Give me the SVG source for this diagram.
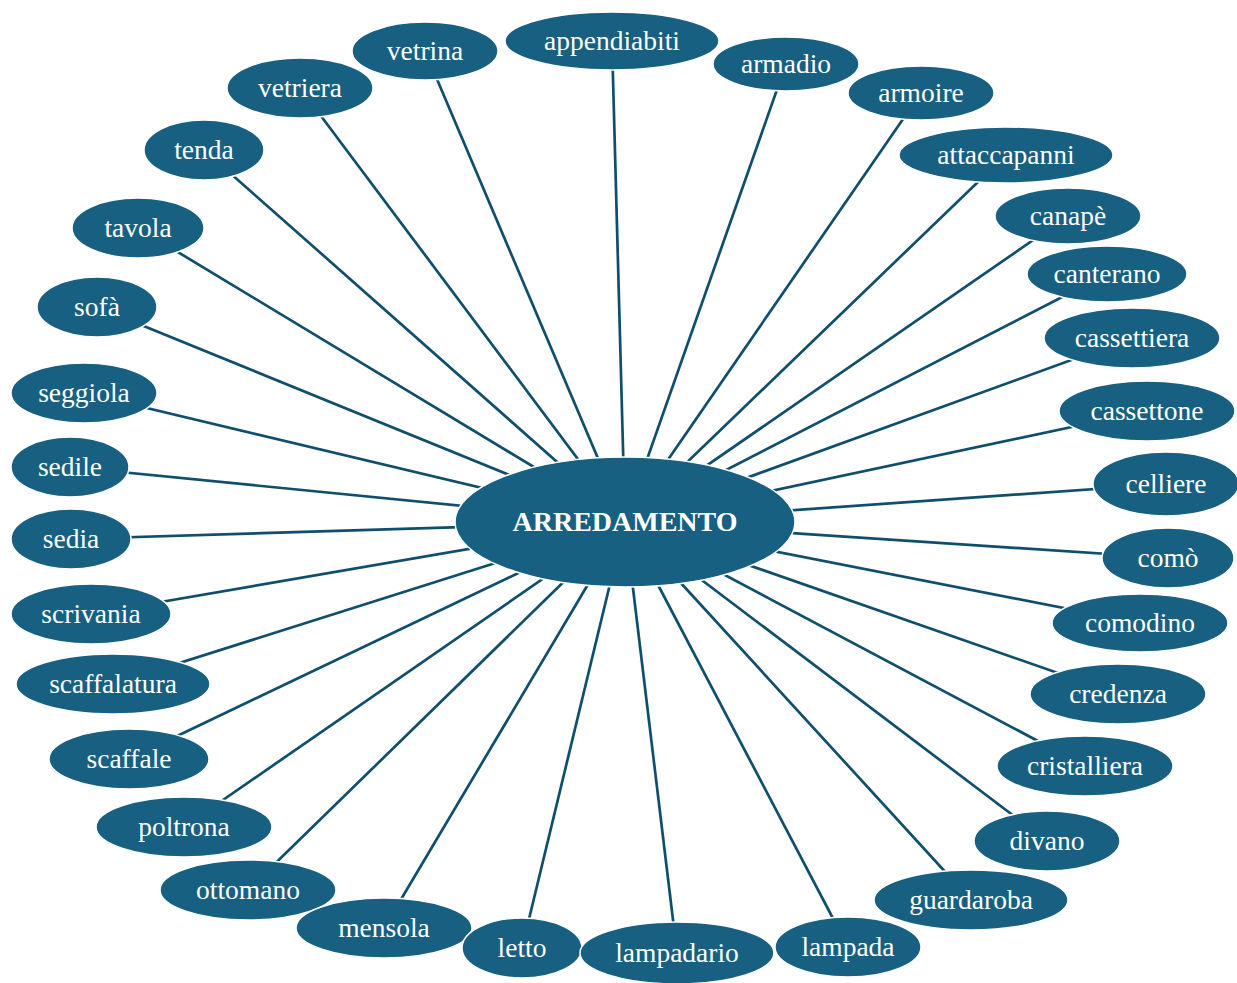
<svg xmlns="http://www.w3.org/2000/svg" width="1237" height="983" viewBox="0 0 1237 983">
<style>
.e{fill:#176082;stroke:#ffffff;stroke-width:1.5}
.t{font-family:"Liberation Serif","Times New Roman",serif;font-size:27.5px;fill:#ffffff;text-anchor:middle}
.c{font-family:"Liberation Serif","Times New Roman",serif;font-size:28px;font-weight:bold;fill:#ffffff;text-anchor:middle}
#edges line{stroke:#0f4f6b;stroke-width:2.7}
</style>
<rect width="1237" height="983" fill="#ffffff"/>
<g id="edges">
<line x1="625" y1="522" x2="612" y2="41"/>
<line x1="625" y1="522" x2="786" y2="64"/>
<line x1="625" y1="522" x2="921" y2="93"/>
<line x1="625" y1="522" x2="1006" y2="155"/>
<line x1="625" y1="522" x2="1068" y2="216"/>
<line x1="625" y1="522" x2="1107" y2="274"/>
<line x1="625" y1="522" x2="1132" y2="338"/>
<line x1="625" y1="522" x2="1147" y2="411"/>
<line x1="625" y1="522" x2="1166" y2="484"/>
<line x1="625" y1="522" x2="1168" y2="558"/>
<line x1="625" y1="522" x2="1140" y2="623"/>
<line x1="625" y1="522" x2="1118" y2="694"/>
<line x1="625" y1="522" x2="1085" y2="766"/>
<line x1="625" y1="522" x2="1047" y2="841"/>
<line x1="625" y1="522" x2="971" y2="900"/>
<line x1="625" y1="522" x2="848" y2="947"/>
<line x1="625" y1="522" x2="677" y2="953"/>
<line x1="625" y1="522" x2="522" y2="948"/>
<line x1="625" y1="522" x2="384" y2="928"/>
<line x1="625" y1="522" x2="248" y2="890"/>
<line x1="625" y1="522" x2="184" y2="827"/>
<line x1="625" y1="522" x2="129" y2="759"/>
<line x1="625" y1="522" x2="113" y2="684"/>
<line x1="625" y1="522" x2="91" y2="614"/>
<line x1="625" y1="522" x2="71" y2="539"/>
<line x1="625" y1="522" x2="70" y2="467"/>
<line x1="625" y1="522" x2="84" y2="393"/>
<line x1="625" y1="522" x2="97" y2="307"/>
<line x1="625" y1="522" x2="138" y2="228"/>
<line x1="625" y1="522" x2="204" y2="150"/>
<line x1="625" y1="522" x2="300" y2="88"/>
<line x1="625" y1="522" x2="425" y2="51"/>
</g>
<g id="n-appendiabiti"><ellipse class="e" cx="612" cy="41" rx="107" ry="29"/><text class="t" x="612" y="50">appendiabiti</text></g>
<g id="n-armadio"><ellipse class="e" cx="786" cy="64" rx="73" ry="27"/><text class="t" x="786" y="73">armadio</text></g>
<g id="n-armoire"><ellipse class="e" cx="921" cy="93" rx="73" ry="27"/><text class="t" x="921" y="102">armoire</text></g>
<g id="n-attaccapanni"><ellipse class="e" cx="1006" cy="155" rx="107" ry="28"/><text class="t" x="1006" y="164">attaccapanni</text></g>
<g id="n-canape"><ellipse class="e" cx="1068" cy="216" rx="73" ry="28"/><text class="t" x="1068" y="225">canapè</text></g>
<g id="n-canterano"><ellipse class="e" cx="1107" cy="274" rx="80" ry="28"/><text class="t" x="1107" y="283">canterano</text></g>
<g id="n-cassettiera"><ellipse class="e" cx="1132" cy="338" rx="88" ry="30"/><text class="t" x="1132" y="347">cassettiera</text></g>
<g id="n-cassettone"><ellipse class="e" cx="1147" cy="411" rx="88" ry="30"/><text class="t" x="1147" y="420">cassettone</text></g>
<g id="n-celliere"><ellipse class="e" cx="1166" cy="484" rx="73" ry="32"/><text class="t" x="1166" y="493">celliere</text></g>
<g id="n-como"><ellipse class="e" cx="1168" cy="558" rx="66" ry="30"/><text class="t" x="1168" y="567">comò</text></g>
<g id="n-comodino"><ellipse class="e" cx="1140" cy="623" rx="88" ry="29"/><text class="t" x="1140" y="632">comodino</text></g>
<g id="n-credenza"><ellipse class="e" cx="1118" cy="694" rx="88" ry="30"/><text class="t" x="1118" y="703">credenza</text></g>
<g id="n-cristalliera"><ellipse class="e" cx="1085" cy="766" rx="88" ry="30"/><text class="t" x="1085" y="775">cristalliera</text></g>
<g id="n-divano"><ellipse class="e" cx="1047" cy="841" rx="73" ry="30"/><text class="t" x="1047" y="850">divano</text></g>
<g id="n-guardaroba"><ellipse class="e" cx="971" cy="900" rx="97" ry="30"/><text class="t" x="971" y="909">guardaroba</text></g>
<g id="n-lampada"><ellipse class="e" cx="848" cy="947" rx="73" ry="30"/><text class="t" x="848" y="956">lampada</text></g>
<g id="n-ottomano"><ellipse class="e" cx="248" cy="890" rx="88" ry="30"/><text class="t" x="248" y="899">ottomano</text></g>
<g id="n-mensola"><ellipse class="e" cx="384" cy="928" rx="88" ry="30"/><text class="t" x="384" y="937">mensola</text></g>
<g id="n-letto"><ellipse class="e" cx="522" cy="948" rx="60" ry="30"/><text class="t" x="522" y="957">letto</text></g>
<g id="n-lampadario"><ellipse class="e" cx="677" cy="953" rx="97" ry="31"/><text class="t" x="677" y="962">lampadario</text></g>
<g id="n-poltrona"><ellipse class="e" cx="184" cy="827" rx="88" ry="30"/><text class="t" x="184" y="836">poltrona</text></g>
<g id="n-scaffale"><ellipse class="e" cx="129" cy="759" rx="80" ry="30"/><text class="t" x="129" y="768">scaffale</text></g>
<g id="n-scaffalatura"><ellipse class="e" cx="113" cy="684" rx="97" ry="30"/><text class="t" x="113" y="693">scaffalatura</text></g>
<g id="n-scrivania"><ellipse class="e" cx="91" cy="614" rx="80" ry="30"/><text class="t" x="91" y="623">scrivania</text></g>
<g id="n-sedia"><ellipse class="e" cx="71" cy="539" rx="60" ry="30"/><text class="t" x="71" y="548">sedia</text></g>
<g id="n-sedile"><ellipse class="e" cx="70" cy="467" rx="59" ry="30"/><text class="t" x="70" y="476">sedile</text></g>
<g id="n-seggiola"><ellipse class="e" cx="84" cy="393" rx="73" ry="30"/><text class="t" x="84" y="402">seggiola</text></g>
<g id="n-sofa"><ellipse class="e" cx="97" cy="307" rx="60" ry="30"/><text class="t" x="97" y="316">sofà</text></g>
<g id="n-tavola"><ellipse class="e" cx="138" cy="228" rx="66" ry="30"/><text class="t" x="138" y="237">tavola</text></g>
<g id="n-tenda"><ellipse class="e" cx="204" cy="150" rx="60" ry="30"/><text class="t" x="204" y="159">tenda</text></g>
<g id="n-vetriera"><ellipse class="e" cx="300" cy="88" rx="73" ry="30"/><text class="t" x="300" y="97">vetriera</text></g>
<g id="n-vetrina"><ellipse class="e" cx="425" cy="51" rx="73" ry="29"/><text class="t" x="425" y="60">vetrina</text></g>
<g id="n-arredamento"><ellipse class="e" cx="625" cy="522" rx="170" ry="65"/><text class="c" x="625" y="531">ARREDAMENTO</text></g>
</svg>
